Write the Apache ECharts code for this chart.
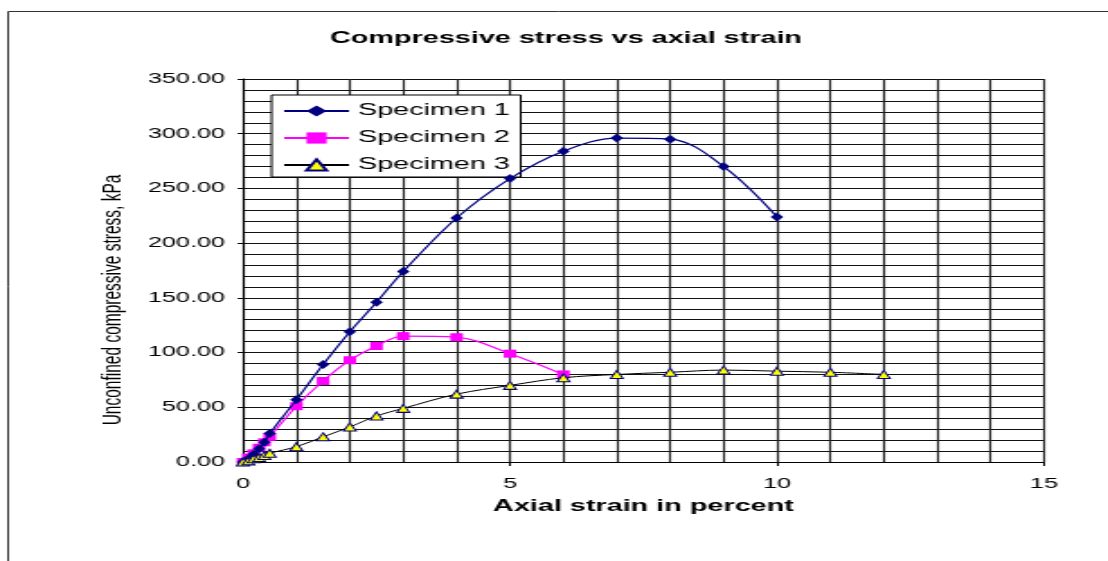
<!DOCTYPE html>
<html>
<head>
<meta charset="utf-8">
<script src="https://cdn.jsdelivr.net/npm/echarts@6/dist/echarts.min.js"></script>
<style>
html,body{margin:0;padding:0;background:#fff;overflow:hidden;width:1108px;height:561px;}
#wrap{position:absolute;left:0;top:0;width:616px;height:561px;transform-origin:0 0;transform:scaleX(1.7987);}
#chart{width:616px;height:561px;}
</style>
</head>
<body>
<div id="wrap"><div id="chart"></div></div>
<script>
// ---- data (strain in percent, stress in kPa) ----
const titleText = 'Compressive stress vs axial strain';
const xAxisName = 'Axial strain in percent';
const yAxisName = 'Unconfined compressive stress, kPa';
const seriesNames = ['Specimen 1', 'Specimen 2', 'Specimen 3'];

const strain1 = [0, 0.1, 0.2, 0.3, 0.4, 0.5, 1, 1.5, 2, 2.5, 3, 4, 5, 6, 7, 8, 9, 10];
const stress1 = [0, 3, 7, 12, 18, 26, 57, 89, 119, 146, 174, 223, 259, 284, 296, 295, 270, 224];

const strain2 = [0, 0.1, 0.2, 0.3, 0.4, 0.5, 1, 1.5, 2, 2.5, 3, 4, 5, 6];
const stress2 = [0, 4, 8, 13, 18, 23, 51, 74, 93, 106, 115, 114, 99, 80];

const strain3 = [0, 0.1, 0.2, 0.3, 0.4, 0.5, 1, 1.5, 2, 2.5, 3, 4, 5, 6, 7, 8, 9, 10, 11, 12];
const stress3 = [0, 1, 3, 4, 6, 8, 14, 23, 32, 42, 49, 62, 70, 77, 80, 82, 84, 83, 82, 80];

const xTicks = [0, 5, 10, 15];
const yTicks = [0, 50, 100, 150, 200, 250, 300, 350];

function pairs(xs, ys){ return xs.map((x,i)=>[x, ys[i]]); }

const FONT = '"Liberation Sans", Arial, sans-serif';
const chart = echarts.init(document.getElementById('chart'), null, {renderer:'canvas'});

const option = {
  animation: false,
  backgroundColor: '#fff',
  grid: {left: 135.1, right: 35.6, top: 79, bottom: 99, containLabel: false},
  legend: {
    orient: 'vertical',
    left: 151, top: 95,
    backgroundColor: '#fff',
    borderColor: '#000', borderWidth: 1, borderRadius: 0,
    padding: [8, 6, 4, 6],
    itemWidth: 36, itemHeight: 14, itemGap: 11,
    textStyle: {fontFamily: FONT, fontSize: 16, color: '#000'},
    data: seriesNames
  },
  xAxis: {
    type: 'value', min: xTicks[0], max: xTicks[xTicks.length-1], interval: 5,
    axisLine: {show: true, onZero: false, lineStyle: {color: '#000', width: 1}},
    axisTick: {show: true, length: 4, lineStyle: {color: '#000'}},
    axisLabel: {fontFamily: FONT, fontSize: 14, color: '#000', margin: 15},
    splitLine: {show: true, lineStyle: {color: '#222', width: 1.15}},
    minorTick: {show: false, splitNumber: 5},
    minorSplitLine: {show: true, lineStyle: {color: '#222', width: 1.15}}
  },
  yAxis: {
    type: 'value', min: yTicks[0], max: yTicks[yTicks.length-1], interval: 50,
    axisLine: {show: true, onZero: false, lineStyle: {color: '#000', width: 1}},
    axisTick: {show: true, length: 3, lineStyle: {color: '#000'}},
    axisLabel: {fontFamily: FONT, fontSize: 14, color: '#000', margin: 10,
      formatter: v => v.toFixed(2)},
    splitLine: {show: true, lineStyle: {color: '#111', width: 1}},
    minorTick: {show: false, splitNumber: 5},
    minorSplitLine: {show: true, lineStyle: {color: '#111', width: 1}}
  },
  series: [
    {
      name: seriesNames[0], type: 'line', smooth: 0.35,
      data: pairs(strain1, stress1),
      symbol: 'diamond', symbolSize: [7, 9],
      lineStyle: {color: '#000080', width: 1.2},
      itemStyle: {color: '#000080', borderColor: '#000080', borderWidth: 0},
      z: 4
    },
    {
      name: seriesNames[1], type: 'line', smooth: 0.35,
      data: pairs(strain2, stress2),
      symbol: 'rect', symbolSize: [7, 8],
      lineStyle: {color: '#ff00ff', width: 1.2},
      itemStyle: {color: '#ff00ff', borderColor: '#ff00ff', borderWidth: 0},
      z: 3
    },
    {
      name: seriesNames[2], type: 'line', smooth: 0.35,
      data: pairs(strain3, stress3),
      symbol: 'triangle', symbolSize: [7, 8],
      lineStyle: {color: '#000', width: 1},
      itemStyle: {color: '#ffff00', borderColor: '#000080', borderWidth: 1},
      z: 5
    }
  ],
  graphic: [
    {type: 'line', shape: {x1: 4.5, y1: 11.5, x2: 616, y2: 11.5}, style: {stroke: '#333', lineWidth: 1}, silent: true},
    {type: 'line', shape: {x1: 4.5, y1: 11.5, x2: 4.5, y2: 561}, style: {stroke: '#333', lineWidth: 1}, silent: true},
    {type: 'text', x: 314.7, y: 39, style: {text: titleText, fontFamily: FONT, fontSize: 16, fontWeight: 'bold', fill: '#000', align: 'center', verticalAlign: 'middle'}},
    {type: 'text', x: 357.7, y: 507, style: {text: xAxisName, fontFamily: FONT, fontSize: 16, fontWeight: 'bold', fill: '#000', align: 'center', verticalAlign: 'middle'}},
    {type: 'text', x: 63, y: 300, rotation: Math.PI/2, style: {text: yAxisName, fontFamily: FONT, fontSize: 15.5, fill: '#000', align: 'center', verticalAlign: 'middle'}}
  ]
};
chart.setOption(option);
</script>
</body>
</html>
